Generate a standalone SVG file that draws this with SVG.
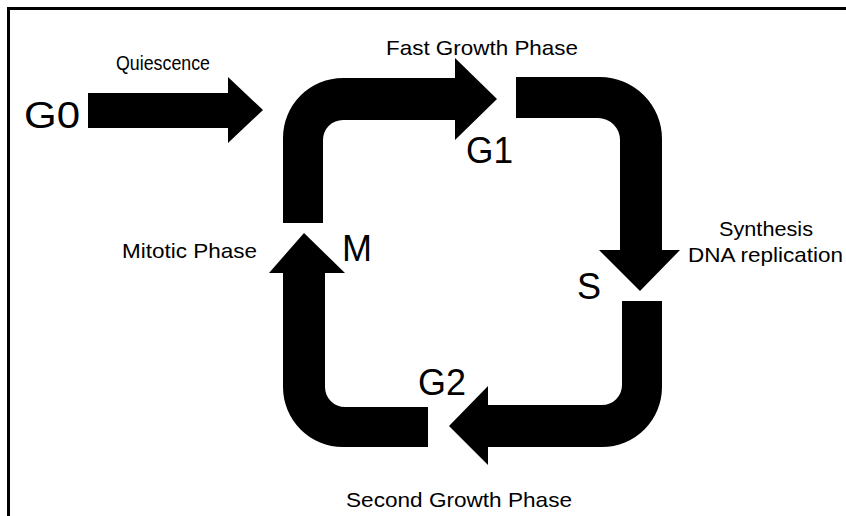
<svg xmlns="http://www.w3.org/2000/svg" width="846" height="516" viewBox="0 0 846 516">
<style>
.big{font-family:"Liberation Sans",Arial,sans-serif;font-size:36px;fill:#000}
.lbl{font-family:"Liberation Sans",Arial,sans-serif;font-size:21px;fill:#000}
.arr{fill:#000;stroke:none}
</style>
<rect x="0" y="0" width="846" height="516" fill="#fff"/>
<rect x="8.5" y="8.5" width="900" height="560" fill="none" stroke="#000" stroke-width="3"/>
<g id="connectors">
<path class="arr" d="M88 93 L228 93 L228 77 L263 110 L228 143 L228 128 L88 128 Z"/>
<path class="arr" d="M283 223 L283 138 A60 60 0 0 1 343 78 L455 78 L455 58 L497 99 L455 140 L455 120 L343 120 A20 20 0 0 0 323 140 L323 223 Z"/>
<path class="arr" d="M516 77 L600 77 A62 62 0 0 1 662 139 L662 250 L680 250 L640 291 L599 250 L620 250 L620 140 A22 22 0 0 0 598 118 L516 118 Z"/>
<path class="arr" d="M622 301 L662 301 L662 387 A60 60 0 0 1 602 447 L488 447 L488 465 L449 426 L488 386 L488 405 L602 405 A20 20 0 0 0 622 385 Z"/>
<path class="arr" d="M428 407 L428 447 L343 447 A60 60 0 0 1 283 387 L283 273 L269 273 L304 233 L345 273 L325 273 L325 387 A20 20 0 0 0 345 407 Z"/>
</g>
<g id="node-G0">
<text class="big" x="24" y="128" textLength="56" lengthAdjust="spacingAndGlyphs" font-size="37">G0</text>
<text class="lbl" x="116" y="70" textLength="94" lengthAdjust="spacingAndGlyphs">Quiescence</text>
</g>
<g id="node-G1">
<text class="big" x="466" y="163" textLength="47" lengthAdjust="spacingAndGlyphs">G1</text>
<text class="lbl" x="386" y="55" textLength="192" lengthAdjust="spacingAndGlyphs">Fast Growth Phase</text>
</g>
<g id="node-S">
<text class="big" x="577" y="299">S</text>
<text class="lbl" x="719" y="236" textLength="94" lengthAdjust="spacingAndGlyphs">Synthesis</text>
<text class="lbl" x="688" y="262" textLength="155" lengthAdjust="spacingAndGlyphs">DNA replication</text>
</g>
<g id="node-G2">
<text class="big" x="418" y="395" textLength="48" lengthAdjust="spacingAndGlyphs">G2</text>
<text class="lbl" x="346" y="507" textLength="226" lengthAdjust="spacingAndGlyphs">Second Growth Phase</text>
</g>
<g id="node-M">
<text class="big" x="342" y="261">M</text>
<text class="lbl" x="122" y="258" textLength="135" lengthAdjust="spacingAndGlyphs">Mitotic Phase</text>
</g>
</svg>
